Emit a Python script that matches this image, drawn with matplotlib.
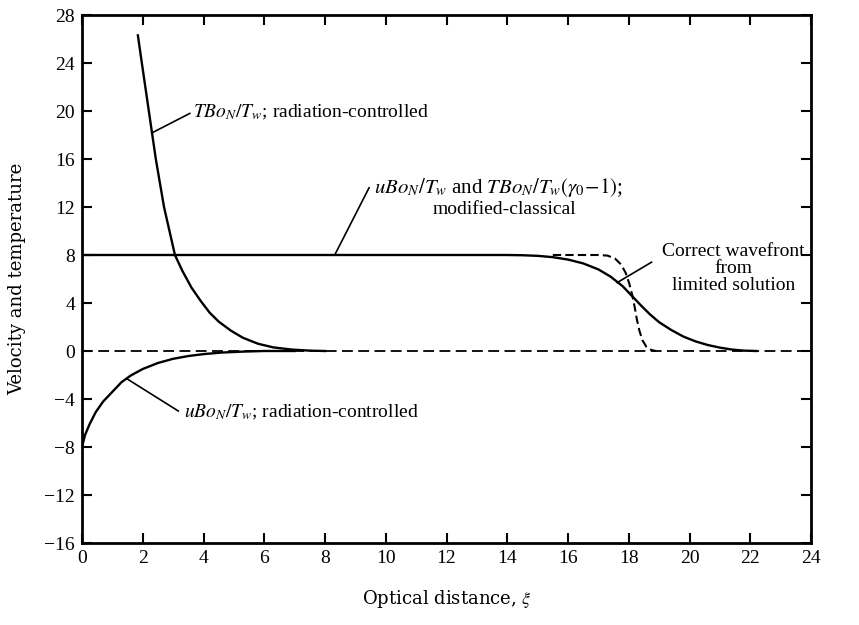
import matplotlib
matplotlib.use("Agg")
import matplotlib.pyplot as plt

plt.rcParams['font.family'] = ['Liberation Serif', 'DejaVu Serif']
plt.rcParams['mathtext.fontset'] = 'stix'

# Temperature, radiation-controlled
t_rad_x = [1.84, 1.97, 2.20, 2.43, 2.70, 3.06, 3.3, 3.6, 3.9, 4.2, 4.5, 4.9, 5.3,
           5.8, 6.3, 6.9, 7.5, 8.0]
t_rad_y = [26.3, 24.0, 20.0, 16.0, 12.0, 8.0, 6.7, 5.3, 4.2, 3.2, 2.45, 1.7, 1.1,
           0.6, 0.3, 0.12, 0.03, 0.0]

# Velocity, radiation-controlled
u_rad_x = [0.0, 0.1, 0.25, 0.45, 0.7, 1.0, 1.3, 1.6, 2.0, 2.5, 3.0, 3.5, 4.0, 4.6,
           5.3, 6.0, 7.0]
u_rad_y = [-8.0, -7.0, -6.1, -5.1, -4.2, -3.4, -2.6, -2.05, -1.5, -1.0, -0.65,
           -0.42, -0.26, -0.13, -0.05, 0.0, 0.0]

# Modified-classical solution
mc_x = [0, 14, 14.5, 15, 15.5, 16, 16.5, 17, 17.4, 17.8, 18.1, 18.4, 18.7, 19.0,
        19.4, 19.8, 20.2, 20.6, 21.0, 21.4, 21.8, 22.2]
mc_y = [8, 8, 7.98, 7.93, 7.82, 7.62, 7.3, 6.8, 6.2, 5.4, 4.6, 3.8, 3.05, 2.4,
        1.75, 1.2, 0.8, 0.5, 0.28, 0.12, 0.03, 0]

# Correct wavefront from limited solution (dashed)
wf_x = [15.5, 17.0, 17.3, 17.55, 17.75, 17.9, 18.02, 18.12, 18.2, 18.27, 18.35,
        18.45, 18.58, 18.75, 18.9]
wf_y = [8.0, 8.0, 7.95, 7.7, 7.2, 6.5, 5.6, 4.6, 3.6, 2.6, 1.7, 0.9, 0.35, 0.08, 0.0]

# Zero reference (dashed)
zero_x = [0, 24]
zero_y = [0, 0]

xticks = list(range(0, 25, 2))
yticks = list(range(-16, 29, 4))

fig = plt.figure(figsize=(8.59, 6.25), dpi=100)
ax = fig.add_axes([82/859, 1-543/625, (811-82)/859, (543-15)/625])

lw = 1.7
ax.plot(zero_x, zero_y, color='black', lw=1.3, ls=(0, (6, 3)))
ax.plot(t_rad_x, t_rad_y, color='black', lw=lw, solid_joinstyle='round')
ax.plot(u_rad_x, u_rad_y, color='black', lw=lw, solid_joinstyle='round')
ax.plot(mc_x, mc_y, color='black', lw=lw, solid_joinstyle='round')
ax.plot(wf_x, wf_y, color='black', lw=1.5, ls=(0, (4, 2)))

ax.set_xlim(0, 24)
ax.set_ylim(-16, 28)
ax.set_xticks(xticks)
ax.set_yticks(yticks)
ax.set_yticklabels([str(v).replace('-', '\u2212') for v in yticks])
ax.tick_params(direction='in', length=7, width=1.5, top=True, right=True,
               labelsize=14, pad=5)
for s in ax.spines.values():
    s.set_linewidth(2)

ax.set_xlabel(r'Optical distance, $\xi$', fontsize=13, labelpad=15,
              family=['DejaVu Serif'])
ax.set_ylabel('Velocity and temperature', fontsize=13, labelpad=13,
              family=['DejaVu Serif'])

fs = 14
# T radiation-controlled
ax.plot([2.32, 3.55], [18.2, 19.8], color='black', lw=1.2)
ax.text(3.65, 19.9, r'$TBo_N/T_w$; radiation-controlled', fontsize=fs,
        va='center', ha='left')

# u radiation-controlled
ax.plot([1.47, 3.17], [-2.3, -5.0], color='black', lw=1.2)
ax.text(3.35, -5.15, r'$uBo_N/T_w$; radiation-controlled', fontsize=fs,
        va='center', ha='left')

# modified-classical
ax.plot([8.32, 9.45], [8.0, 13.6], color='black', lw=1.2)
ax.text(9.6, 13.6, r'$uBo_N/T_w$ and $TBo_N/T_w(\gamma_0\!-\!1)$;', fontsize=fs + 1,
        va='center', ha='left')
ax.text(13.9, 11.75, 'modified-classical', fontsize=fs, va='center', ha='center')

# wavefront
ax.plot([17.62, 18.75], [5.7, 7.4], color='black', lw=1.2)
ax.text(21.45, 6.85, 'Correct wavefront\nfrom\nlimited solution', fontsize=fs,
        va='center', ha='center', multialignment='center', linespacing=1.0)

fig.savefig('out.png', dpi=100)
